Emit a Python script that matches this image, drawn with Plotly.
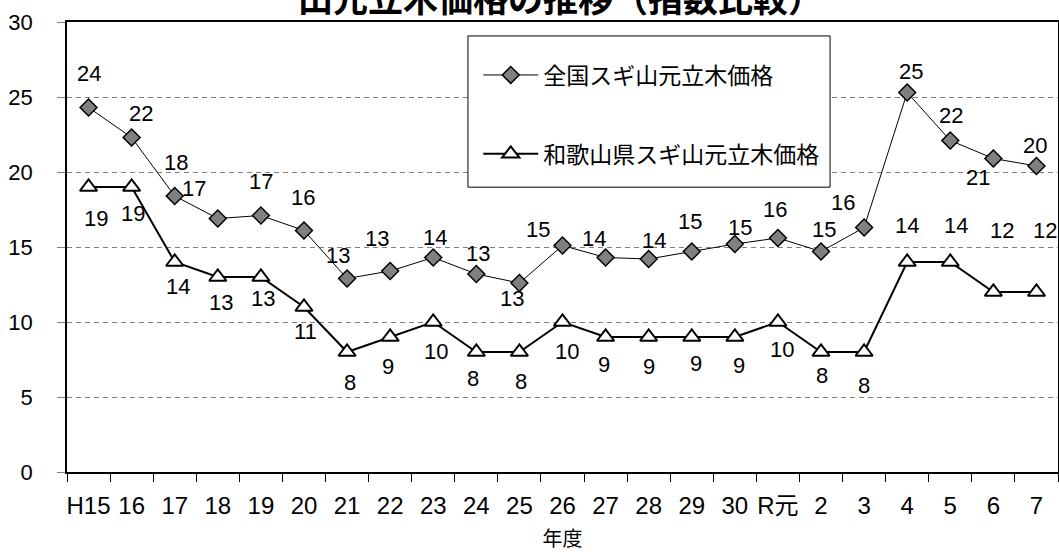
import plotly.graph_objects as go

# 年度（平成15年度～令和7年度）
years = ["H15", "16", "17", "18", "19", "20", "21", "22", "23", "24", "25",
         "26", "27", "28", "29", "30", "R元", "2", "3", "4", "5", "6", "7"]

# 全国スギ山元立木価格（指数）
national = [24.3, 22.3, 18.4, 16.9, 17.1, 16.1, 12.9, 13.4, 14.3, 13.2, 12.6,
            15.1, 14.3, 14.2, 14.7, 15.2, 15.6, 14.7, 16.3, 25.3, 22.1, 20.9, 20.4]

# 和歌山県スギ山元立木価格（指数）
wakayama = [19, 19, 14, 13, 13, 11, 8, 9, 10, 8, 8,
            10, 9, 9, 9, 9, 10, 8, 8, 14, 14, 12, 12]

name_national = "全国スギ山元立木価格"
name_wakayama = "和歌山県スギ山元立木価格"

# ラベルの位置調整（点からのピクセル offset: 右, 下）
nat_dx = [0, 9, 1, -24, 0, -1, -9, -13, 2, 2, -7, -25, -12, 5, -2, 5, -3, 3, -21, 4, 1, -15, -1]
nat_dy = [-34, -24, -34, -30, -34, -33, -23, -33, -20, -21, 15, -16, -19, -19, -30, -17, -29, -22, -25, -21, -25, 19, -21]
wak_dx = [7, 1, 3, 3, 2, 2, 3, -2, 3, -3, 2, 4, -2, 0, 4, 4, 4, 1, 0, 0, 6, 9, 9]
wak_dy = [31, 26, 24, 25, 21, 24, 30, 29, 29, 26, 29, 29, 27, 29, 26, 28, 27, 23, 33, -37, -37, -62, -62]

FONT = "Liberation Sans, Arial, Noto Sans CJK JP, sans-serif"
JFONT = "Noto Sans CJK JP, Liberation Sans, sans-serif"

fig = go.Figure()

fig.add_trace(go.Scatter(
    x=years, y=national, name=name_national, mode="lines+markers",
    line=dict(color="black", width=1),
    marker=dict(symbol="diamond", size=13, color="#808080",
                line=dict(color="black", width=1.5)),
    legendgroup="a",
))
fig.add_trace(go.Scatter(
    x=years, y=wakayama, name=name_wakayama, mode="lines+markers",
    line=dict(color="black", width=2),
    marker=dict(symbol="triangle-up", size=15, color="white",
                line=dict(color="black", width=2)),
    legendgroup="b",
))

# データラベル（カテゴリ軸上の位置はインデックスで指定）
annotations = []
for i, (v, dx, dy) in enumerate(zip(national, nat_dx, nat_dy)):
    annotations.append(dict(x=i, y=v, xref="x", yref="y", text=f"{v:.0f}",
                            showarrow=False, xshift=dx, yshift=-dy,
                            font=dict(family=FONT, size=22, color="black")))
for i, (v, dx, dy) in enumerate(zip(wakayama, wak_dx, wak_dy)):
    annotations.append(dict(x=i, y=v, xref="x", yref="y", text=f"{v:.0f}",
                            showarrow=False, xshift=dx, yshift=-dy,
                            font=dict(family=FONT, size=22, color="black")))

# タイトル
annotations.append(dict(x=0.498, y=1, xref="paper", yref="paper",
                        xanchor="center", yanchor="bottom", yshift=-2,
                        text="<b>山元立木価格の推移（指数比較）</b>", showarrow=False,
                        font=dict(family=JFONT, size=35, color="black")))

fig.update_layout(
    width=1059, height=552,
    margin=dict(l=67, r=1, t=22, b=80),
    paper_bgcolor="white", plot_bgcolor="white",
    font=dict(family=FONT, size=21, color="black"),
    annotations=annotations,
    showlegend=True,
    legend=dict(x=0.415, y=0.93, xanchor="left", yanchor="top",
                bgcolor="rgba(0,0,0,0)", borderwidth=0,
                font=dict(family=JFONT, size=23, color="black"),
                itemwidth=55, tracegroupgap=46, traceorder="grouped"),
    shapes=[dict(type="rect", xref="paper", yref="paper",
                 x0=0.4046, x1=0.770, y0=0.633, y1=0.969,
                 line=dict(color="black", width=1), fillcolor="white",
                 layer="above")],
)

fig.update_xaxes(
    type="category", range=[-0.5, len(years) - 0.5], automargin=False,
    tickson="boundaries", ticks="outside", ticklen=8,
    tickcolor="black", tickwidth=1, tickangle=0,
    showline=True, linecolor="black", linewidth=2, mirror=True,
    showgrid=False,
    tickfont=dict(family=FONT, size=24),
    ticklabelstandoff=11,
    title=dict(text="年度", font=dict(family=JFONT, size=20), standoff=22),
)
fig.update_yaxes(
    range=[0, 30], dtick=5, automargin=False,
    ticks="outside", ticklen=8, tickcolor="#808080",
    showline=True, linecolor="black", linewidth=1.5, mirror=True,
    showgrid=True, gridcolor="#808080", gridwidth=1, griddash="5px,4px",
    zeroline=False,
    tickfont=dict(family=FONT, size=22),
    ticklabelstandoff=20,
)

fig.write_html("out.html")
